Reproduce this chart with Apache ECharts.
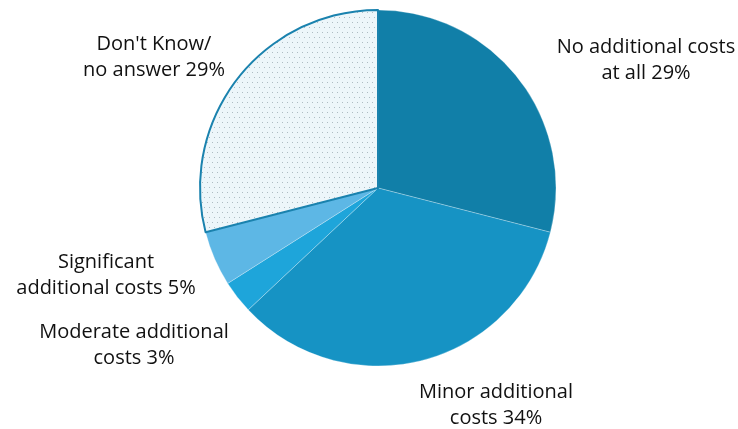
<!DOCTYPE html>
<html>
<head>
<meta charset="utf-8">
<script src="https://cdn.jsdelivr.net/npm/echarts@6/dist/echarts.min.js"></script>
<style>
  html, body { margin: 0; padding: 0; background: #ffffff; }
  #chart { width: 738px; height: 429px; }
</style>
</head>
<body>
<div id="chart"></div>
<script>
// Survey answers, clockwise from twelve o'clock
const categories = [
  'No additional costs\nat all',
  'Minor additional\ncosts',
  'Moderate additional\ncosts',
  'Significant\nadditional costs',
  "Don't Know/\nno answer"
];
const shares = [29, 34, 3, 5, 29];

// Slice fills and label anchor points (layout only)
const sliceColors = ['#117fa8', '#1693c4', '#1ea5da', '#5db7e5', null];
const labelAnchors = [
  [646, 60], [496, 405], [134, 345], [106, 275], [154, 57]
];

// Light dotted fill for the "don't know" slice
function dottedPattern() {
  const c = document.createElement('canvas');
  c.width = 10; c.height = 10;
  const g = c.getContext('2d');
  g.fillStyle = '#edf6fa';
  g.fillRect(0, 0, 10, 10);
  g.fillStyle = '#aebcc3';
  g.fillRect(2, 2, 1, 1);
  g.fillRect(7, 2, 1, 1);
  g.fillRect(4, 7, 1, 1);
  g.fillRect(9, 7, 1, 1);
  return c;
}

const chart = echarts.init(document.getElementById('chart'), null, { renderer: 'canvas' });

const data = categories.map((name, i) => {
  const item = { name: name, value: shares[i] };
  if (sliceColors[i]) {
    item.itemStyle = { color: sliceColors[i], borderColor: 'rgba(255,255,255,0.45)', borderWidth: 0.6 };
  } else {
    item.itemStyle = {
      color: { image: dottedPattern(), repeat: 'repeat' },
      borderColor: '#1a82ae',
      borderWidth: 2
    };
  }
  return item;
});

chart.setOption({
  animation: false,
  backgroundColor: '#ffffff',
  series: [{
    type: 'pie',
    center: [378, 188],
    radius: 178,
    startAngle: 90,
    clockwise: true,
    data: data,
    label: {
      show: true,
      position: 'outside',
      formatter: p => p.name + ' ' + p.value + '%',
      color: '#111111',
      fontFamily: 'Open Sans',
      fontSize: 20,
      lineHeight: 26,
      align: 'center',
      overflow: 'none',
      width: 300
    },
    labelLine: { show: false },
    labelLayout: function (params) {
      const a = labelAnchors[params.dataIndex];
      return { x: a[0], y: a[1], align: 'center', verticalAlign: 'middle' };
    },
    emphasis: { disabled: true }
  }]
});
</script>
</body>
</html>
